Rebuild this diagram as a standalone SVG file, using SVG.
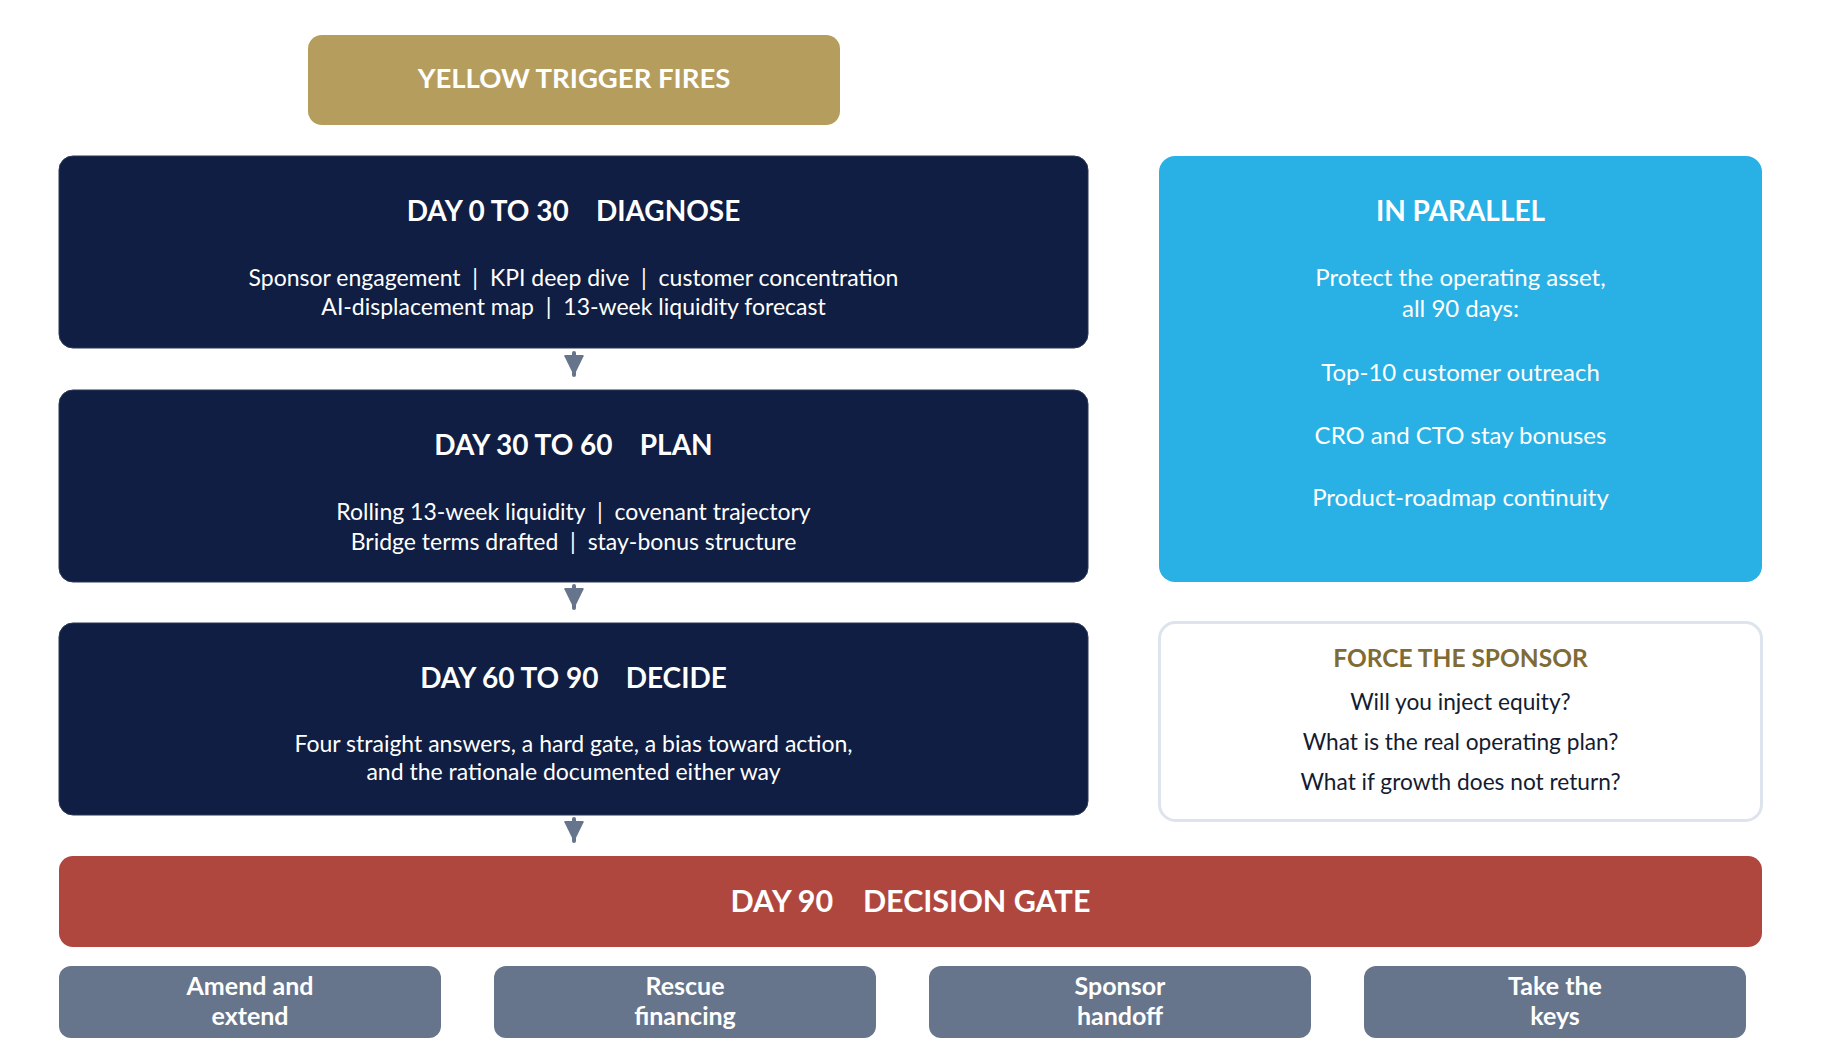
<svg xmlns="http://www.w3.org/2000/svg" width="1821" height="1062" viewBox="0 0 1821 1062">
<style>
text{font-family:Lato,"Noto Sans","Liberation Sans",sans-serif;text-anchor:middle}
.t{font-weight:700;font-size:28px;fill:#ffffff}
.b{font-size:23px;fill:#ffffff}
.p{font-size:24px;fill:#ffffff}
.navy{fill:#0F1E42;stroke:#2A3756;stroke-width:1}
.opt{fill:#66758C}
.ot{font-weight:700;font-size:25px;fill:#ffffff}
.q{font-size:22.7px;fill:#141C30}
.arrow{stroke:#66758C;stroke-width:4;stroke-linecap:round;fill:none}
</style>
<defs>
<marker id="ah" viewBox="0 0 10 10" refX="10" refY="5" markerWidth="5" markerHeight="5" orient="auto" markerUnits="strokeWidth">
<path d="M0,0.6 Q0,0 0.6,0.2 L9.6,4.6 Q10,5 9.6,5.4 L0.6,9.8 Q0,10 0,9.4 Z" fill="#66758C"/>
</marker>
</defs>
<rect width="1821" height="1062" fill="#ffffff"/>

<g id="trigger">
<rect x="308" y="35" width="532" height="90" rx="14" fill="#B59D5E"/>
<text class="t" x="574" y="88" style="font-size:27.5px">YELLOW TRIGGER FIRES</text>
</g>

<g id="diagnose">
<rect class="navy" x="59" y="156" width="1029" height="192" rx="14"/>
<text class="t" x="573.5" y="221" xml:space="preserve">DAY 0 TO 30    DIAGNOSE</text>
<text class="b" x="573.5" y="286" xml:space="preserve">Sponsor engagement  |  KPI deep dive  |  customer concentration</text>
<text class="b" x="573.5" y="315" xml:space="preserve">AI-displacement map  |  13-week liquidity forecast</text>
</g>

<g id="plan">
<rect class="navy" x="59" y="390" width="1029" height="192" rx="14"/>
<text class="t" x="573.5" y="455" xml:space="preserve">DAY 30 TO 60    PLAN</text>
<text class="b" x="573.5" y="520" xml:space="preserve">Rolling 13-week liquidity  |  covenant trajectory</text>
<text class="b" x="573.5" y="550" xml:space="preserve">Bridge terms drafted  |  stay-bonus structure</text>
</g>

<g id="decide">
<rect class="navy" x="59" y="623" width="1029" height="192" rx="14"/>
<text class="t" x="573.5" y="688" xml:space="preserve">DAY 60 TO 90    DECIDE</text>
<text class="b" x="573.5" y="752">Four straight answers, a hard gate, a bias toward action,</text>
<text class="b" x="573.5" y="780">and the rationale documented either way</text>
</g>

<g id="parallel">
<rect x="1159" y="156" width="603" height="426" rx="16" fill="#29B1E6"/>
<text class="t" x="1460.5" y="221">IN PARALLEL</text>
<text class="p" x="1460.5" y="286">Protect the operating asset,</text>
<text class="p" x="1460.5" y="317">all 90 days:</text>
<text class="p" x="1460.5" y="381">Top-10 customer outreach</text>
<text class="p" x="1460.5" y="444">CRO and CTO stay bonuses</text>
<text class="p" x="1460.5" y="506">Product-roadmap continuity</text>
</g>

<g id="force">
<rect x="1159.5" y="622.5" width="602" height="198" rx="16" fill="#ffffff" stroke="#DDE4EE" stroke-width="3"/>
<text x="1460.5" y="667" style="font-weight:700;font-size:24.5px;fill:#7F6B35">FORCE THE SPONSOR</text>
<text class="q" x="1460.5" y="710">Will you inject equity?</text>
<text class="q" x="1460.5" y="750">What is the real operating plan?</text>
<text class="q" x="1460.5" y="790">What if growth does not return?</text>
</g>

<g id="gate">
<rect x="59" y="856" width="1703" height="91" rx="14" fill="#B0473F"/>
<text class="t" x="910.5" y="912" xml:space="preserve" style="font-size:30.5px">DAY 90    DECISION GATE</text>
</g>

<g id="opt-amend">
<rect class="opt" x="59" y="966" width="382" height="72" rx="12"/>
<text class="ot" x="250" y="995">Amend and</text>
<text class="ot" x="250" y="1025">extend</text>
</g>
<g id="opt-rescue">
<rect class="opt" x="494" y="966" width="382" height="72" rx="12"/>
<text class="ot" x="685" y="995">Rescue</text>
<text class="ot" x="685" y="1025">financing</text>
</g>
<g id="opt-handoff">
<rect class="opt" x="929" y="966" width="382" height="72" rx="12"/>
<text class="ot" x="1120" y="995">Sponsor</text>
<text class="ot" x="1120" y="1025">handoff</text>
</g>
<g id="opt-keys">
<rect class="opt" x="1364" y="966" width="382" height="72" rx="12"/>
<text class="ot" x="1555" y="995">Take the</text>
<text class="ot" x="1555" y="1025">keys</text>
</g>

<g id="connectors">
<line class="arrow" x1="574" y1="353" x2="574" y2="375" marker-end="url(#ah)"/>
<line class="arrow" x1="574" y1="586" x2="574" y2="608" marker-end="url(#ah)"/>
<line class="arrow" x1="574" y1="819" x2="574" y2="841" marker-end="url(#ah)"/>
</g>
</svg>
